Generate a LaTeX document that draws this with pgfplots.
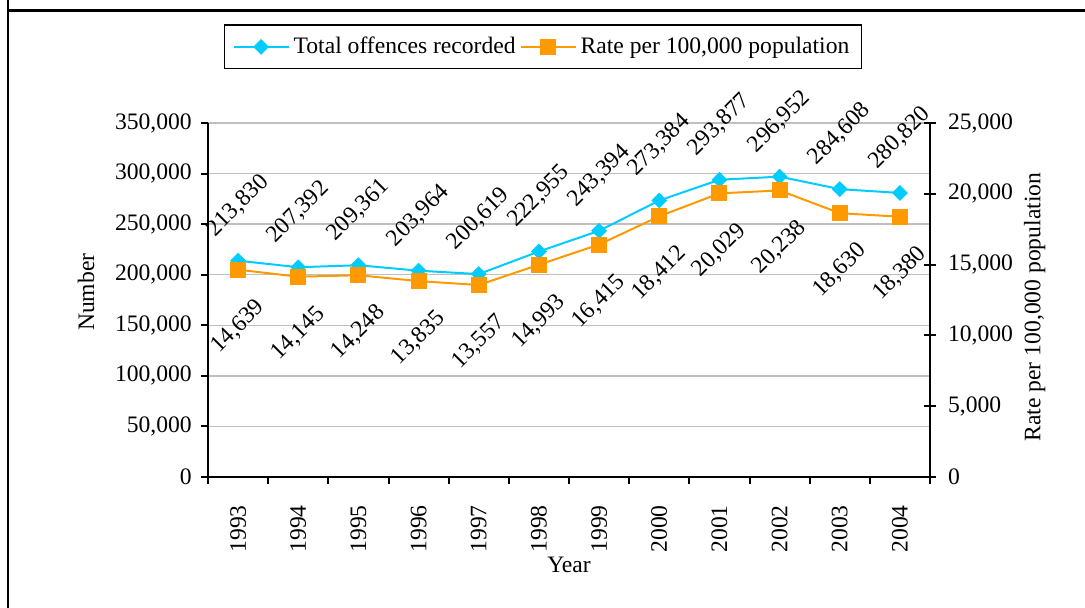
\documentclass[border=0pt]{standalone}
\usepackage{pgfplots}
\usepackage{pgfplotstable}
\pgfplotsset{compat=1.18}
\usepackage{fontspec}
\setmainfont{Liberation Serif}

\definecolor{skyb}{RGB}{0,204,255}
\definecolor{orng}{RGB}{255,153,0}

% year index, total offences, rate per 100,000
\pgfplotstableread{
x total rate
0 213830 14639
1 207392 14145
2 209361 14248
3 203964 13835
4 200619 13557
5 222955 14993
6 243394 16415
7 273384 18412
8 293877 20029
9 296952 20238
10 284608 18630
11 280820 18380
}\crimedata

\pgfplotsset{
  /pgf/number format/assume math mode=true,
  twin/.style={
    scale only axis, width=361pt, height=177pt,
    at={(104pt,65.5pt)}, anchor=south west,
    xmin=-0.5, xmax=11.5, ymin=0, clip=false,
    axis line style={black, line width=1pt},
    tick style={black, line width=1pt},
    scaled y ticks=false,
    yticklabel style={/pgf/number format/fixed, /pgf/number format/1000 sep={,}},
  },
  lbl/.style={
    nodes near coords={\pgfmathprintnumber[fixed,precision=0,1000 sep={,}]{\pgfplotspointmeta}},
    every node near coord/.append style={black, anchor=center, yshift=#1, rotate=45},
  },
  blueline/.style={skyb, line width=1pt, mark=square*, mark size=2.3pt,
    mark options={rotate=45, fill=skyb, draw=skyb}},
  orangeline/.style={orng, line width=1pt, mark=square*, mark size=3.5pt,
    mark options={fill=orng, draw=orng}},
}

\begin{document}
\begin{tikzpicture}[font=\fontsize{11.8}{13.5}\selectfont]
\useasboundingbox (0,0) rectangle (542.5pt,304pt);
\draw[line width=1.2pt] (4pt,0) -- (4pt,304pt);
\draw[line width=1.2pt] (4pt,298.75pt) -- (542.5pt,298.75pt);

\begin{axis}[twin,
  ymax=350000, ytick={0,50000,...,350000},
  axis x line*=bottom, axis y line*=left,
  tick align=outside, major tick length=3.3pt, minor tick length=3.5pt,
  ymajorgrids, grid style={black!25, line width=0.7pt},
  xtick={0,...,11},
  xticklabels={1993,1994,1995,1996,1997,1998,1999,2000,2001,2002,2003,2004},
  major x tick style={draw=none},
  minor xtick={-0.5,0.5,...,11.5},
  xticklabel style={yshift=-7.3pt, rotate=90, anchor=east},
  yticklabel style={xshift=-1.3pt},
  xlabel={Year}, ylabel={Number},
  every axis x label/.style={at={(rel axis cs:0.5,-0.249)}, anchor=center},
  every axis y label/.style={at={(rel axis cs:-0.169,0.522)}, rotate=90, anchor=center},
]
\addplot[blueline, lbl=27.5pt] table[x=x, y=total] {\crimedata};
\end{axis}

\begin{axis}[twin,
  ymax=25000, ytick={0,5000,...,25000},
  axis x line=none, axis y line*=right,
  ytick align=center, major tick length=6pt,
  yticklabel style={xshift=2.5pt},
  ylabel={Rate per 100,000 population},
  every axis y label/.style={at={(rel axis cs:1.145,0.48)}, rotate=90, anchor=center},
  legend columns=2,
  legend style={at={(0.464,1.215)}, anchor=center, draw=black, line width=0.8pt,
    inner xsep=4pt, inner ysep=3pt,
    nodes={inner xsep=2pt, inner ysep=3pt},
    /tikz/every even column/.append style={column sep=0pt}},
  legend image code/.code={
    \draw[mark repeat=2, mark phase=2] plot coordinates {(0pt,0pt) (13.75pt,0pt) (27.5pt,0pt)};},
]
\addlegendimage{blueline}
\addlegendentry{Total offences recorded}
\addplot[orangeline, lbl=-28.5pt] table[x=x, y=rate] {\crimedata};
\addlegendentry{Rate per 100,000 population}
\end{axis}
\end{tikzpicture}
\end{document}
